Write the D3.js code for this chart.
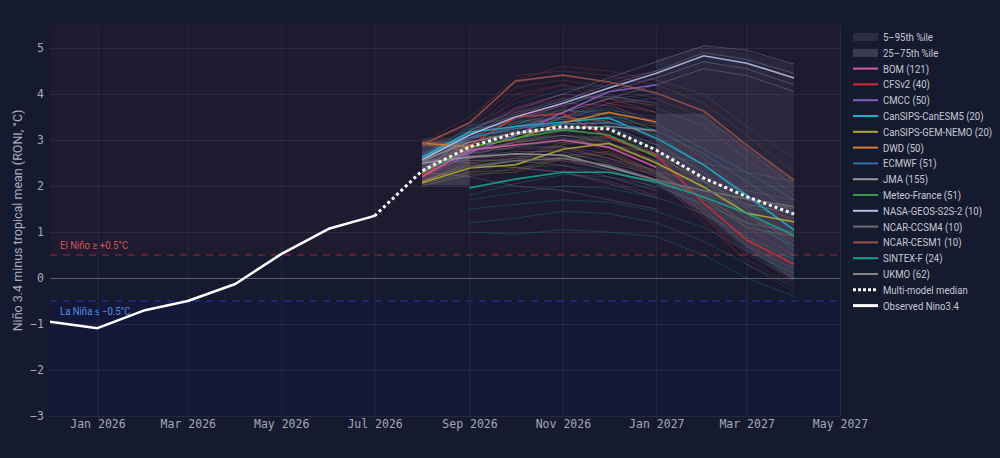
<!DOCTYPE html>
<html>
<head>
<meta charset="utf-8">
<script src="https://cdn.jsdelivr.net/npm/d3@7"></script>
<style>
    body { margin: 0; background: #151a2e; }
    svg { display: block; }
</style>
</head>
<body>
<svg id="SVG_CONTAINER_Plume" width="1000" height="458"></svg>
<script>
//** DATA *****************************************
const obsMonths = ["2025-12", "2026-01", "2026-02", "2026-03", "2026-04", "2026-05", "2026-06", "2026-07"];
const observed = [-0.95, -1.09, -0.70, -0.50, -0.13, 0.52, 1.07, 1.35];

const fcMonths = ["2026-08", "2026-09", "2026-10", "2026-11", "2026-12", "2027-01", "2027-02", "2027-03", "2027-04"];
const medianMonths = ["2026-07"].concat(fcMonths);
const median = [1.35, 2.33, 2.85, 3.15, 3.29, 3.24, 2.78, 2.17, 1.77, 1.39];

// percentile bands (gaps where the plot shows none)
const p95 = [3.05, 3.05, null, null, null, 4.75, 5.05, 4.90, 4.65];
const p75 = [2.97, 2.97, null, null, null, 3.57, 3.57, 2.85, 2.13];
const p25 = [2.02, 2.02, null, null, null, 2.07, 1.40, 0.65, -0.05];
const p5  = [1.98, 1.98, null, null, null, 2.02, 1.32, 0.55, -0.12];

const models = ["BOM (121)", "CFSv2 (40)", "CMCC (50)", "CanSIPS-CanESM5 (20)", "CanSIPS-GEM-NEMO (20)",
    "DWD (50)", "ECMWF (51)", "JMA (155)", "Meteo-France (51)", "NASA-GEOS-S2S-2 (10)",
    "NCAR-CCSM4 (10)", "NCAR-CESM1 (10)", "SINTEX-F (24)", "UKMO (62)"];
const modelColors = ["#cf5ca3", "#d22f35", "#8660c0", "#1bb0c8", "#b0aa2c",
    "#dc7c2a", "#2f72aa", "#9a9a9a", "#349f42", "#b2bce4",
    "#6e6e72", "#9a5048", "#16a392", "#858585"];

// ensemble means, Aug 2026 .. Apr 2027
const modelMeans = [
    [2.20, 2.78, 2.89, 3.00, 2.84, 2.41, null, null, null],
    [2.24, 2.87, 3.50, 3.57, 3.06, 2.67, 1.63, 0.83, 0.30],
    [2.35, 2.72, 3.10, 3.60, 4.05, 4.20, null, null, null],
    [2.63, 3.17, 3.29, 3.39, 3.48, 3.04, 2.46, 1.80, 1.04],
    [2.07, 2.39, 2.46, 2.80, 2.93, 2.50, 1.98, 1.41, 1.22],
    [2.93, 2.85, 3.02, 3.37, 3.60, 3.39, null, null, null],
    [2.60, 3.05, 3.25, 3.35, 3.37, 3.20, null, null, null],
    [2.50, 2.63, 2.70, 2.67, 2.41, 2.13, null, null, null],
    [2.28, 2.83, 3.04, 3.22, 3.11, 2.63, null, null, null],
    [2.57, 3.11, 3.50, 3.80, 4.13, 4.45, 4.83, 4.67, 4.35],
    [null, 2.40, 2.55, 2.60, 2.45, 2.13, 1.90, 1.72, 1.55],
    [2.90, 3.37, 4.28, 4.41, 4.26, 4.02, 3.63, 2.89, 2.13],
    [null, 1.96, 2.15, 2.30, 2.30, 2.09, 1.76, 1.41, 0.93],
    [2.55, 2.95, 3.15, 3.25, 3.30, 3.20, null, null, null]
];

// a sample of ensemble members per model
const bomMembers = [
    [2.10, 2.60, 2.70, 2.80, 2.60, 2.20, null, null, null],
    [2.30, 2.90, 3.10, 3.25, 3.10, 2.70, null, null, null],
    [2.15, 2.70, 2.95, 3.10, 2.95, 2.55, null, null, null],
    [2.25, 2.85, 2.80, 2.85, 2.70, 2.30, null, null, null],
    [2.20, 3.00, 3.30, 3.50, 3.40, 3.00, null, null, null],
    [2.05, 2.55, 2.60, 2.55, 2.35, 1.95, null, null, null],
    [2.30, 3.10, 3.50, 3.80, 3.75, 3.40, null, null, null],
    [2.25, 3.20, 3.70, 4.00, 3.90, 3.60, null, null, null],
    [2.10, 2.45, 2.40, 2.30, 2.10, 1.80, null, null, null]
];
const cfsMembers = [
    [2.30, 3.00, 3.70, 3.90, 3.50, 3.00, 2.20, 1.40, 0.80],
    [2.10, 2.70, 3.30, 3.30, 2.80, 2.30, 1.30, 0.50, 0.00],
    [2.20, 2.90, 3.50, 3.60, 3.20, 2.80, 1.90, 1.10, 0.50],
    [2.35, 2.95, 3.60, 3.75, 3.10, 2.50, 1.50, 0.70, 0.20],
    [2.15, 2.80, 3.40, 3.45, 2.90, 2.40, 1.40, 0.30, -0.30],
    [2.25, 2.85, 3.55, 3.70, 3.30, 2.90, 2.00, 1.30, 0.90],
    [2.20, 2.75, 3.25, 3.20, 2.70, 2.20, 1.20, 0.40, -0.15],
    [2.30, 3.10, 3.90, 4.20, 3.80, 3.30, 2.60, 1.80, 1.20]
];
const cmccMembers = [
    [2.30, 2.80, 3.30, 3.80, 4.30, 4.50, null, null, null],
    [2.40, 2.65, 2.95, 3.40, 3.80, 3.90, null, null, null],
    [2.35, 2.75, 3.20, 3.70, 4.15, 4.35, null, null, null],
    [2.30, 2.60, 3.00, 3.50, 3.90, 4.00, null, null, null]
];
const canesmMembers = [
    [2.60, 3.20, 3.40, 3.50, 3.60, 3.20, 2.70, 2.10, 1.40],
    [2.70, 3.10, 3.20, 3.20, 3.30, 2.80, 2.10, 1.40, 0.60],
    [2.55, 3.25, 3.35, 3.50, 3.70, 3.35, 2.80, 2.30, 1.70],
    [2.65, 3.05, 3.10, 3.25, 3.30, 2.90, 2.30, 1.50, 0.70],
    [2.60, 3.30, 3.50, 3.65, 3.55, 3.10, 2.45, 1.75, 1.05]
];
const gemMembers = [
    [2.10, 2.50, 2.60, 2.95, 3.10, 2.70, 2.20, 1.70, 1.50],
    [2.05, 2.30, 2.35, 2.65, 2.75, 2.30, 1.70, 1.10, 0.90],
    [2.10, 2.45, 2.55, 2.90, 3.05, 2.65, 2.10, 1.60, 1.40],
    [2.00, 2.25, 2.30, 2.60, 2.70, 2.25, 1.75, 1.20, 1.00]
];
const dwdMembers = [
    [2.95, 2.90, 3.10, 3.50, 3.80, 3.60, null, null, null],
    [2.90, 2.75, 2.90, 3.20, 3.40, 3.15, null, null, null],
    [2.95, 2.95, 3.20, 3.60, 3.90, 3.75, null, null, null],
    [2.90, 2.80, 2.95, 3.25, 3.45, 3.30, null, null, null]
];
const ecmwfMembers = [
    [2.60, 3.10, 3.30, 3.45, 3.50, 3.35, null, null, null],
    [2.55, 2.95, 3.15, 3.20, 3.15, 2.95, null, null, null],
    [2.65, 3.15, 3.45, 3.60, 3.65, 3.50, null, null, null],
    [2.50, 2.90, 3.05, 3.10, 3.00, 2.80, null, null, null],
    [2.70, 3.25, 3.60, 3.85, 3.95, 3.80, null, null, null],
    [2.60, 3.30, 3.80, 4.10, 4.20, 4.00, null, null, null]
];
const jmaMembers = [
    [2.50, 2.60, 2.65, 2.60, 2.35, 2.05, null, null, null],
    [2.45, 2.70, 2.85, 2.85, 2.60, 2.35, null, null, null],
    [2.55, 2.55, 2.55, 2.45, 2.20, 1.90, null, null, null],
    [2.50, 2.65, 2.75, 2.75, 2.50, 2.25, null, null, null],
    [2.40, 2.75, 2.95, 3.05, 2.85, 2.55, null, null, null],
    [2.60, 2.50, 2.40, 2.30, 2.05, 1.75, null, null, null],
    [2.45, 2.90, 3.30, 3.50, 3.40, 3.10, null, null, null],
    [2.30, 2.20, 2.00, 1.90, 1.70, 1.50, null, null, null]
];
const mfMembers = [
    [2.30, 2.90, 3.15, 3.35, 3.25, 2.80, null, null, null],
    [2.25, 2.75, 2.95, 3.10, 2.95, 2.45, null, null, null],
    [2.30, 2.85, 3.10, 3.30, 3.20, 2.70, null, null, null],
    [2.20, 2.70, 2.85, 3.00, 2.85, 2.40, null, null, null],
    [2.35, 3.05, 3.40, 3.65, 3.60, 3.20, null, null, null]
];
const nasaMembers = [
    [2.60, 3.20, 3.65, 4.00, 4.35, 4.70, 5.05, 4.95, 4.65],
    [2.55, 3.00, 3.35, 3.60, 3.90, 4.20, 4.55, 4.40, 4.05],
    [2.60, 3.15, 3.55, 3.85, 4.20, 4.50, 4.90, 4.75, 4.45],
    [2.50, 3.05, 3.45, 3.75, 4.05, 4.35, 4.70, 4.55, 4.20]
];
const ccsmMembers = [
    [null, 2.40, 2.60, 2.70, 2.55, 2.30, 2.10, 1.90, 1.70],
    [null, 2.20, 2.40, 2.45, 2.30, 2.05, 1.80, 1.55, 1.30],
    [null, 2.60, 2.85, 3.00, 2.90, 2.70, 2.50, 2.30, 2.10],
    [null, 2.30, 2.50, 2.55, 2.40, 2.10, 1.85, 1.60, 1.40]
];
const cesmMembers = [
    [2.90, 3.40, 4.40, 4.50, 4.40, 4.20, 3.80, 3.10, 2.30],
    [2.85, 3.20, 4.00, 4.20, 4.00, 3.70, 3.30, 2.60, 1.80],
    [2.95, 3.50, 4.30, 4.60, 4.50, 4.30, 4.00, 3.30, 2.60],
    [2.90, 3.30, 4.15, 4.30, 4.15, 3.90, 3.50, 2.80, 2.00]
];
const sintexMembers = [
    [null, 1.95, 2.15, 2.30, 2.30, 2.10, 1.75, 1.40, 0.90],
    [null, 1.50, 1.60, 1.70, 1.65, 1.45, 1.10, 0.60, 0.10],
    [null, 1.20, 1.30, 1.45, 1.40, 1.20, 0.80, 0.30, -0.20],
    [null, 1.70, 1.85, 2.00, 1.95, 1.75, 1.40, 0.90, 0.40],
    [null, 1.00, 0.95, 1.05, 1.00, 0.90, 0.50, 0.00, -0.40],
    [null, 1.80, 2.05, 2.25, 2.20, 2.00, 1.60, 1.20, 0.70]
];
const ukmoMembers = [
    [2.55, 2.95, 3.15, 3.25, 3.30, 3.20, null, null, null],
    [2.45, 2.80, 2.90, 2.95, 2.90, 2.70, null, null, null],
    [2.60, 3.05, 3.30, 3.45, 3.50, 3.45, null, null, null],
    [2.50, 2.85, 3.00, 3.10, 3.05, 2.90, null, null, null],
    [2.50, 3.20, 3.60, 3.90, 3.95, 3.80, null, null, null]
];
const memberSets = [bomMembers, cfsMembers, cmccMembers, canesmMembers, gemMembers,
    dwdMembers, ecmwfMembers, jmaMembers, mfMembers, nasaMembers,
    ccsmMembers, cesmMembers, sintexMembers, ukmoMembers];

const xTicks = ["2026-01", "2026-03", "2026-05", "2026-07", "2026-09", "2026-11", "2027-01", "2027-03", "2027-05"];
const yTicks = [-3, -2, -1, 0, 1, 2, 3, 4, 5];

//** SETUP *****************************************
const MARGIN = { LEFT: 50, RIGHT: 160, TOP: 25, BOTTOM: 42 };
const width = 1000, height = 458;
const parseMonth = d3.timeParse("%Y-%m");
const monoFont = "'DejaVu Sans Mono', monospace";
const sansFont = "Roboto, 'Noto Sans', sans-serif";
const squeeze = 0.87; //horizontal squeeze to mimic the narrow sans in the original

let svg = d3.select("#SVG_CONTAINER_Plume");

//** SCALES *****************************************
let xScale = d3.scaleTime()
    .domain([parseMonth("2025-12"), parseMonth("2027-05")])
    .range([MARGIN.LEFT, width - MARGIN.RIGHT]);

let yScale = d3.scaleLinear()
    .domain([-3, 5.5])
    .range([height - MARGIN.BOTTOM, MARGIN.TOP]);

const x0 = xScale.range()[0], x1 = xScale.range()[1];

//** BACKGROUND REGIONS *****************************************
let bg = svg.append("g");
bg.append("rect").attr("x", x0).attr("width", x1 - x0)
    .attr("y", yScale(5.5)).attr("height", yScale(0.5) - yScale(5.5))
    .attr("fill", "#1e1a2f");
bg.append("rect").attr("x", x0).attr("width", x1 - x0)
    .attr("y", yScale(0.5)).attr("height", yScale(-0.5) - yScale(0.5))
    .attr("fill", "#161a2e");
bg.append("rect").attr("x", x0).attr("width", x1 - x0)
    .attr("y", yScale(-0.5)).attr("height", yScale(-3) - yScale(-0.5))
    .attr("fill", "#141838");

//** GRID + AXES *****************************************
let xAxis = d3.axisBottom(xScale)
    .tickValues(xTicks.map(parseMonth))
    .tickFormat(d3.timeFormat("%b %Y"))
    .tickSize(-(yScale(-3) - yScale(5.5)))
    .tickPadding(4);

let xg = svg.append("g")
    .attr("transform", "translate(0," + yScale(-3) + ")")
    .call(xAxis);
xg.select(".domain").remove();
xg.selectAll(".tick line").attr("stroke", "rgba(255,255,255,0.07)");
xg.selectAll(".tick text")
    .attr("fill", "#a3a8b8").attr("font-family", monoFont).attr("font-size", 11.5);

let yAxis = d3.axisLeft(yScale)
    .tickValues(yTicks)
    .tickSize(-(x1 - x0))
    .tickPadding(6);

let yg = svg.append("g")
    .attr("transform", "translate(" + x0 + ",0)")
    .call(yAxis);
yg.select(".domain").remove();
yg.selectAll(".tick line")
    .attr("stroke", d => d === 0 ? "rgba(255,255,255,0.3)" : "rgba(255,255,255,0.07)");
yg.selectAll(".tick text")
    .attr("fill", "#a3a8b8").attr("font-family", monoFont).attr("font-size", 11.5);

svg.append("text")
    .attr("transform", "translate(22," + (yScale(1.25)) + ") rotate(-90)")
    .attr("text-anchor", "middle")
    .attr("fill", "#a8aec0")
    .attr("font-family", sansFont)
    .attr("font-size", 12.5)
    .text("Niño 3.4 minus tropical mean (RONI, °C)");

//** THRESHOLDS *****************************************
svg.append("line")
    .attr("x1", x0).attr("x2", x1)
    .attr("y1", yScale(0.5)).attr("y2", yScale(0.5))
    .attr("stroke", "#9a2a3a").attr("stroke-width", 1).attr("stroke-dasharray", "7,6");
svg.append("line")
    .attr("x1", x0).attr("x2", x1)
    .attr("y1", yScale(-0.5)).attr("y2", yScale(-0.5))
    .attr("stroke", "#2a2fa8").attr("stroke-width", 1).attr("stroke-dasharray", "7,6");

svg.append("text")
    .attr("transform", "translate(" + (x0 + 10) + "," + (yScale(0.5) - 6) + ") scale(" + squeeze + ",1)")
    .attr("fill", "#d9525c").attr("font-family", sansFont).attr("font-size", 11)
    .text("El Niño ≥ +0.5°C");
svg.append("text")
    .attr("transform", "translate(" + (x0 + 10) + "," + (yScale(-0.5) + 14) + ") scale(" + squeeze + ",1)")
    .attr("fill", "#4d8fe6").attr("font-family", sansFont).attr("font-size", 11)
    .text("La Niña ≤ −0.5°C");

//** PLUME *****************************************
svg.append("clipPath").attr("id", "plotClip")
    .append("rect")
    .attr("x", x0).attr("y", yScale(5.5))
    .attr("width", x1 - x0).attr("height", yScale(-3) - yScale(5.5));

let plot = svg.append("g").attr("clip-path", "url(#plotClip)");

let fcDates = fcMonths.map(parseMonth);
let line = d3.line()
    .defined(d => d[1] != null)
    .x(d => xScale(d[0]))
    .y(d => yScale(d[1]));

//members
memberSets.forEach((set, i) => {
    plot.append("g")
        .selectAll("path")
        .data(set)
        .enter()
        .append("path")
        .attr("d", m => line(m.map((v, j) => [fcDates[j], v])))
        .attr("fill", "none")
        .attr("stroke", modelColors[i])
        .attr("stroke-width", 1)
        .attr("stroke-opacity", 0.28);
});

//percentile bands
function band(lo, hi) {
    return d3.area()
        .defined((d, j) => lo[j] != null && hi[j] != null)
        .x(d => xScale(d))
        .y0((d, j) => yScale(lo[j]))
        .y1((d, j) => yScale(hi[j]))(fcDates);
}
plot.append("path").attr("d", band(p5, p95))
    .attr("fill", "rgba(170,165,200,0.09)");
plot.append("path").attr("d", band(p25, p75))
    .attr("fill", "rgba(175,170,200,0.15)");

//ensemble means
modelMeans.forEach((m, i) => {
    plot.append("path")
        .attr("d", line(m.map((v, j) => [fcDates[j], v])))
        .attr("fill", "none")
        .attr("stroke", modelColors[i])
        .attr("stroke-width", 1.6)
        .attr("stroke-opacity", 0.9);
});

//median
plot.append("path")
    .attr("d", line(median.map((v, j) => [parseMonth(medianMonths[j]), v])))
    .attr("fill", "none")
    .attr("stroke", "#ffffff")
    .attr("stroke-width", 3)
    .attr("stroke-dasharray", "3,3");

//observed
plot.append("path")
    .attr("d", line(observed.map((v, j) => [parseMonth(obsMonths[j]), v])))
    .attr("fill", "none")
    .attr("stroke", "#ffffff")
    .attr("stroke-width", 2.5)
    .attr("stroke-linejoin", "round");

//** LEGEND *****************************************
let legend = svg.append("g").attr("transform", "translate(853,37)");
const rowH = 15.8;
let items = [{ type: "band", label: "5–95th %ile", color: "#2b2e40" },
    { type: "band", label: "25–75th %ile", color: "#3b3e50" }]
    .concat(models.map((m, i) => ({ type: "line", label: m, color: modelColors[i] })))
    .concat([{ type: "median", label: "Multi-model median", color: "#fff" },
        { type: "obs", label: "Observed Nino3.4", color: "#fff" }]);

items.forEach((it, i) => {
    let row = legend.append("g").attr("transform", "translate(0," + (i * rowH) + ")");
    if (it.type === "band") {
        row.append("rect").attr("x", 0).attr("y", -4).attr("width", 25).attr("height", 8)
            .attr("fill", it.color);
    } else {
        row.append("line").attr("x1", 0).attr("x2", 25).attr("y1", 0).attr("y2", 0)
            .attr("stroke", it.color)
            .attr("stroke-width", it.type === "line" ? 2 : 3)
            .attr("stroke-dasharray", it.type === "median" ? "3,2" : null);
    }
    row.append("text")
        .attr("transform", "translate(30,4) scale(" + squeeze + ",1)")
        .attr("fill", "#c5c9d6")
        .attr("font-family", sansFont)
        .attr("font-size", 11)
        .text(it.label);
});
</script>
</body>
</html>
